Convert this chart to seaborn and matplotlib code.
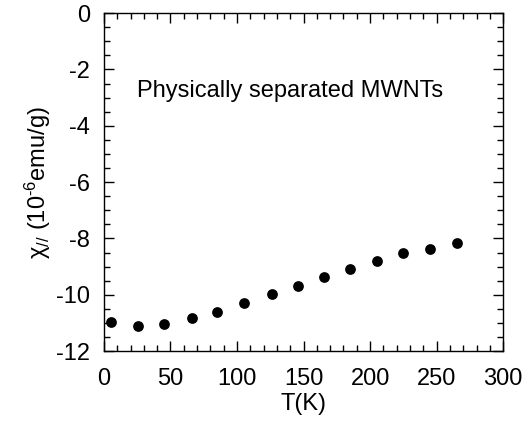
import numpy as np
import matplotlib
matplotlib.use("Agg")
import matplotlib.pyplot as plt
from matplotlib.ticker import MultipleLocator
import seaborn as sns

# temperature (K) and susceptibility (1e-6 emu/g)
T = [5, 26, 45, 66, 85, 105, 126, 146, 165, 185, 205, 225, 245, 265]
chi = [-10.97, -11.10, -11.04, -10.83, -10.60, -10.30, -9.98,
       -9.70, -9.36, -9.08, -8.80, -8.53, -8.38, -8.17]

sns.set_theme(style="ticks")
plt.rcParams['font.family'] = ['Liberation Sans', 'DejaVu Sans']
plt.rcParams['mathtext.default'] = 'regular'
plt.rcParams['axes.unicode_minus'] = False
plt.rcParams['text.color'] = 'black'
plt.rcParams['axes.labelcolor'] = 'black'
plt.rcParams['xtick.labelcolor'] = 'black'
plt.rcParams['ytick.labelcolor'] = 'black'

fig = plt.figure(figsize=(5.22, 4.23), dpi=100)
ax = fig.add_axes([0.199, 0.170, 0.765, 0.799])

sns.scatterplot(x=T, y=chi, ax=ax, color='black', s=60, edgecolor='black', linewidth=0)

ax.set_xlim(0, 300)
ax.set_ylim(-12, 0)
ax.xaxis.set_major_locator(MultipleLocator(50))
ax.xaxis.set_minor_locator(MultipleLocator(10))
ax.yaxis.set_major_locator(MultipleLocator(2))
ax.yaxis.set_minor_locator(MultipleLocator(0.5))
ax.tick_params(which='both', direction='in', top=True, right=True, color='black',
               labelsize=17, width=1)
ax.tick_params(which='major', length=7)
ax.tick_params(which='minor', length=4)
ax.tick_params(axis='x', which='major', pad=12)
ax.tick_params(axis='y', which='major', pad=10)
for sp in ax.spines.values():
    sp.set_linewidth(1)
    sp.set_color('black')

ax.set_xlabel('T(K)', fontsize=17, labelpad=2)
ax.set_ylabel('χ$_{//}$ (10$^{\u2010 6}$emu/g)', fontsize=17, labelpad=2)
ax.text(25, -2.97, 'Physically separated MWNTs', fontsize=17)

fig.savefig('out.png', dpi=100)
